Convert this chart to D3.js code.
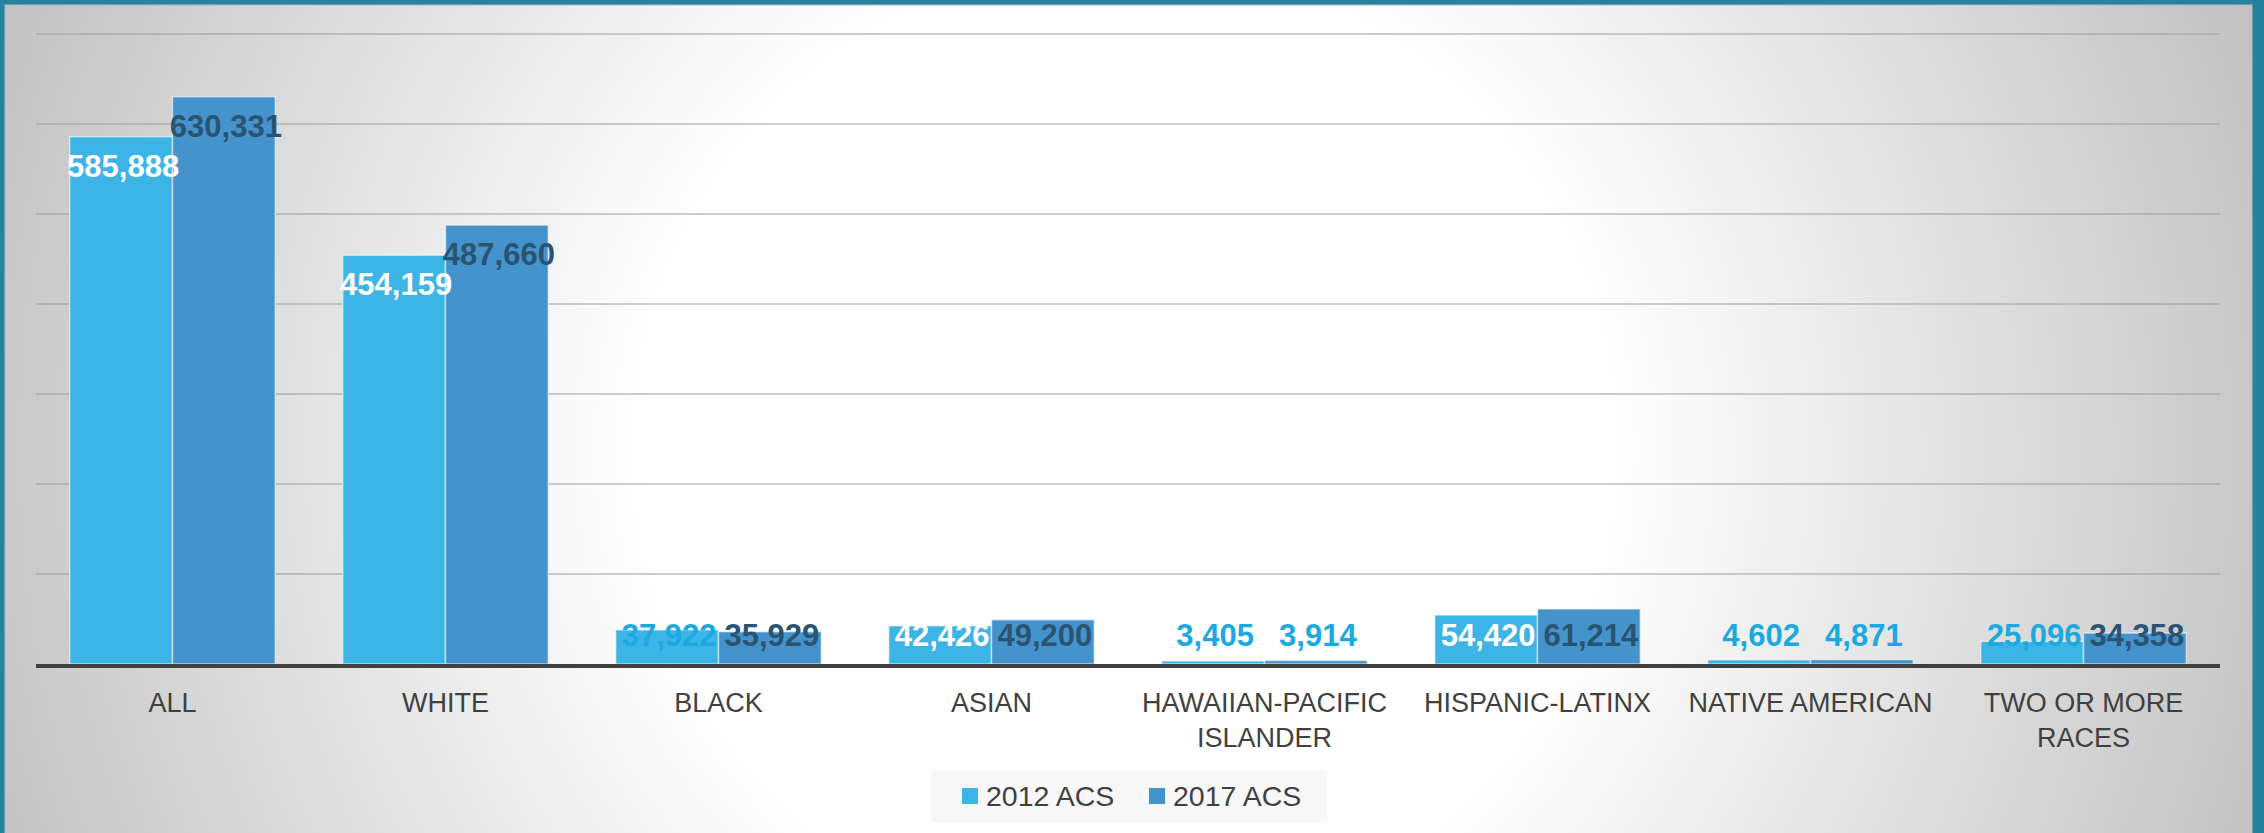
<!DOCTYPE html>
<html>
<head>
<meta charset="utf-8">
<script src="https://cdn.jsdelivr.net/npm/d3@7/dist/d3.min.js"></script>
<style>
  html, body { margin: 0; padding: 0; background: #2583a0; }
  svg { display: block; }
</style>
</head>
<body>
<svg id="chart" width="2264" height="833"></svg>
<script>
// Population by race, American Community Survey estimates
const categories = [
  "ALL", "WHITE", "BLACK", "ASIAN", "HAWAIIAN-PACIFIC ISLANDER",
  "HISPANIC-LATINX", "NATIVE AMERICAN", "TWO OR MORE RACES"
];
const seriesNames = ["2012 ACS", "2017 ACS"];
const acs2012 = [585888, 454159, 37922, 42426, 3405, 54420, 4602, 25096];
const acs2017 = [630331, 487660, 35929, 49200, 3914, 61214, 4871, 34358];
const gridValues = [100000, 200000, 300000, 400000, 500000, 600000, 700000];

const W = 2264, H = 833;
const plot = { left: 36, right: 2220, top: 34, bottom: 664 };
const colors = { "2012 ACS": "#3cb4e5", "2017 ACS": "#4493cd" };
const labelCyan = "#1ba9e1", labelDark = "#2b5372";

const svg = d3.select("#chart");
const defs = svg.append("defs");

// Soft radial backdrop of the slide panel
const grad = defs.append("radialGradient")
  .attr("id", "panelGrad").attr("gradientUnits", "userSpaceOnUse")
  .attr("cx", 1125).attr("cy", 450).attr("r", 1200);
grad.append("stop").attr("offset", 0).attr("stop-color", "#ffffff");
grad.append("stop").attr("offset", 0.4).attr("stop-color", "#ffffff");
grad.append("stop").attr("offset", 1).attr("stop-color", "#c2c2c2");

svg.append("rect").attr("width", W).attr("height", H).attr("fill", "#2583a0");
svg.append("rect").attr("x", 5).attr("y", 5).attr("width", 2247).attr("height", H)
  .attr("fill", "url(#panelGrad)").attr("stroke", "#b4bcc0").attr("stroke-width", 1);

const x0 = d3.scaleBand().domain(categories)
  .range([plot.left, plot.right]).paddingInner(0.247).paddingOuter(0.1235);
const x1 = d3.scaleBand().domain(seriesNames).range([0, x0.bandwidth()]);
const y = d3.scaleLinear().domain([0, 700000]).range([plot.bottom, plot.top]);

// Horizontal gridlines
svg.append("g").selectAll("line").data(gridValues).join("line")
  .attr("x1", plot.left).attr("x2", plot.right)
  .attr("y1", d => y(d)).attr("y2", d => y(d))
  .attr("stroke", "#9a9a9a").attr("stroke-opacity", 0.65).attr("stroke-width", 1.6);

const rows = categories.map((c, i) => ({
  category: c,
  values: [
    { series: "2012 ACS", value: acs2012[i] },
    { series: "2017 ACS", value: acs2017[i] }
  ]
}));

const groups = svg.append("g").selectAll("g").data(rows).join("g")
  .attr("transform", d => `translate(${x0(d.category)},0)`);

groups.selectAll("rect").data(d => d.values).join("rect")
  .attr("x", d => x1(d.series))
  .attr("y", d => y(d.value))
  .attr("width", x1.bandwidth())
  .attr("height", d => y(0) - y(d.value))
  .attr("fill", d => colors[d.series])
  .attr("stroke", "rgba(255,255,255,0.55)").attr("stroke-width", 1.5);

// Baseline
svg.append("line")
  .attr("x1", plot.left).attr("x2", plot.right)
  .attr("y1", y(0) + 2).attr("y2", y(0) + 2)
  .attr("stroke", "#404040").attr("stroke-width", 4);

// Value labels, inside the bar end; short bars keep their label above the baseline
const fmt = d3.format(",");
function labelFill(d) {
  const h = y(0) - y(d.value);
  if (d.series === "2012 ACS") return h >= 36 ? "#ffffff" : labelCyan;
  return h >= 20 ? labelDark : labelCyan;
}
groups.selectAll("text.val").data(d => d.values).join("text")
  .attr("class", "val")
  .attr("x", d => x1(d.series) + x1.bandwidth() / 2 + 2)
  .attr("y", d => Math.min(y(d.value) + 29, y(0) - 29))
  .attr("dy", "0.36em")
  .attr("text-anchor", "middle")
  .attr("font-family", "'Liberation Sans', Arial, sans-serif")
  .attr("font-weight", "bold")
  .attr("font-size", 31)
  .attr("fill", labelFill)
  .text(d => fmt(d.value));

// Category labels, wrapped to the band width
const catG = svg.append("g");
const maxW = x0.step() - 8;
categories.forEach(c => {
  const t = catG.append("text")
    .attr("x", x0(c) + x0.bandwidth() / 2)
    .attr("y", 712)
    .attr("text-anchor", "middle")
    .attr("font-family", "'Liberation Sans', Arial, sans-serif")
    .attr("font-size", 27)
    .attr("fill", "#404040");
  const words = c.split(" ");
  let line = [];
  let tspan = t.append("tspan").attr("x", x0(c) + x0.bandwidth() / 2).attr("dy", 0);
  words.forEach(w => {
    line.push(w);
    tspan.text(line.join(" "));
    if (tspan.node().getComputedTextLength() > maxW && line.length > 1) {
      line.pop();
      tspan.text(line.join(" "));
      line = [w];
      tspan = t.append("tspan").attr("x", x0(c) + x0.bandwidth() / 2)
        .attr("dy", 35).text(w);
    }
  });
});

// Legend
const legend = svg.append("g");
legend.append("rect").attr("x", 931).attr("y", 771).attr("width", 396).attr("height", 51)
  .attr("fill", "#f7f7f7");
const legendX = [962, 1149];
seriesNames.forEach((s, i) => {
  legend.append("rect").attr("x", legendX[i]).attr("y", 788)
    .attr("width", 16).attr("height", 16).attr("fill", colors[s]);
  legend.append("text").attr("x", legendX[i] + 24).attr("y", 806)
    .attr("font-family", "'Liberation Sans', Arial, sans-serif")
    .attr("font-size", 28.5).attr("fill", "#404040").text(s);
});
</script>
</body>
</html>
